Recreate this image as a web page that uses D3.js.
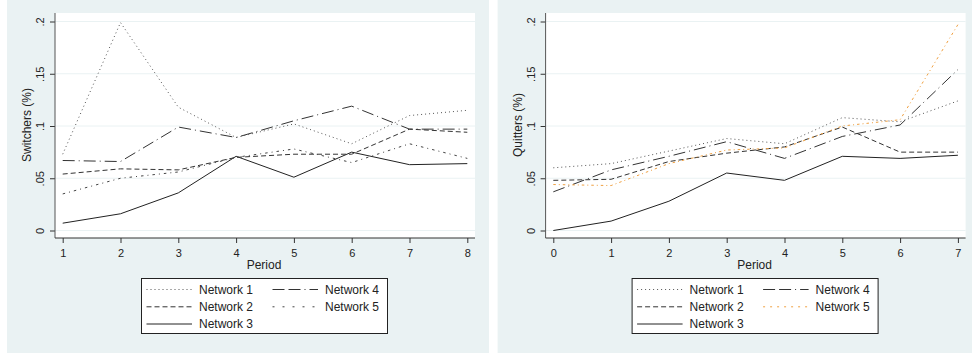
<!DOCTYPE html>
<html>
<head>
<meta charset="utf-8">
<script src="https://cdn.jsdelivr.net/npm/d3@7"></script>
<style>
    body { margin: 0; background: #ffffff; }
    svg { display: block; font-family: "Liberation Sans", Arial, sans-serif; }
</style>
</head>
<body>
<div id="chart"></div>
<script>
// Values
var switchPeriods = [1, 2, 3, 4, 5, 6, 7, 8];
var quitPeriods = [0, 1, 2, 3, 4, 5, 6, 7];
var networkNames = ["Network 1", "Network 2", "Network 3", "Network 4", "Network 5"];
var yTicks = [0, 0.05, 0.1, 0.15, 0.2];
var yTickLabels = ["0", ".05", ".1", ".15", ".2"];

var switchN1 = [0.073, 0.199, 0.118, 0.089, 0.102, 0.083, 0.110, 0.115];
var switchN2 = [0.054, 0.059, 0.058, 0.070, 0.073, 0.073, 0.097, 0.094];
var switchN3 = [0.007, 0.016, 0.036, 0.071, 0.051, 0.075, 0.063, 0.064];
var switchN4 = [0.067, 0.066, 0.099, 0.089, 0.105, 0.119, 0.097, 0.097];
var switchN5 = [0.035, 0.050, 0.056, 0.070, 0.078, 0.065, 0.083, 0.069];

var quitN1 = [0.060, 0.064, 0.076, 0.088, 0.083, 0.108, 0.104, 0.124];
var quitN2 = [0.048, 0.049, 0.066, 0.074, 0.080, 0.099, 0.075, 0.075];
var quitN3 = [0.000, 0.009, 0.028, 0.055, 0.048, 0.071, 0.069, 0.072];
var quitN4 = [0.037, 0.058, 0.071, 0.085, 0.069, 0.090, 0.101, 0.154];
var quitN5 = [0.044, 0.043, 0.064, 0.077, 0.079, 0.100, 0.106, 0.197];

class LinePanel {

    constructor(svg, offset, periods, series, title, styles) {
        this.svg = svg;
        this.offset = offset;
        this.periods = periods;
        this.series = series;
        this.title = title;
        this.styles = styles;

        // plot region inside the panel
        this.plot = { left: 55, right: 475, top: 13, bottom: 238 };
        this.x = d3.scaleLinear()
            .domain(d3.extent(periods))
            .range([62.7, 467.3]);
        this.y = d3.scaleLinear()
            .domain([0, 0.2])
            .range([230.5, 21.5]);
    }

    draw_background(g) {
        g.append("rect")
            .attr("x", 7).attr("y", 0)
            .attr("width", 482).attr("height", 353)
            .style("fill", "#eaf2f3");

        g.append("rect")
            .attr("x", this.plot.left).attr("y", this.plot.top)
            .attr("width", this.plot.right - this.plot.left)
            .attr("height", this.plot.bottom - this.plot.top)
            .style("fill", "#ffffff");

        // horizontal grid lines
        g.selectAll(".grid")
            .data(yTicks)
            .enter()
            .append("line")
            .attr("x1", this.plot.left)
            .attr("x2", this.plot.right)
            .attr("y1", d => this.y(d))
            .attr("y2", d => this.y(d))
            .style("stroke", "#eaf2f3")
            .style("stroke-width", 1);
    }

    draw_axes(g) {
        var p = this.plot;

        // y axis, labels turned like the Stata default
        var yAxis = g.append("g")
            .attr("transform", "translate(" + p.left + ",0)")
            .call(d3.axisLeft(this.y).tickValues(yTicks).tickSize(5)
                .tickFormat((d, i) => yTickLabels[i]));
        yAxis.select(".domain").remove();
        yAxis.selectAll(".tick line").style("stroke", "#333");
        yAxis.selectAll(".tick text")
            .attr("x", null).attr("dy", null)
            .attr("transform", "translate(-11,0) rotate(-90)")
            .attr("text-anchor", "middle")
            .style("font-size", "11px")
            .style("fill", "#222");
        g.append("line")
            .attr("x1", p.left).attr("x2", p.left)
            .attr("y1", p.top).attr("y2", p.bottom)
            .style("stroke", "#555");

        // x axis
        var xAxis = g.append("g")
            .attr("transform", "translate(0," + p.bottom + ")")
            .call(d3.axisBottom(this.x).tickValues(this.periods).tickSize(5)
                .tickFormat(d3.format("d")));
        xAxis.select(".domain").remove();
        xAxis.selectAll(".tick line").style("stroke", "#333");
        xAxis.selectAll(".tick text")
            .attr("y", 19).attr("dy", null)
            .style("font-size", "11px")
            .style("fill", "#222");
        g.append("line")
            .attr("x1", p.left).attr("x2", p.right)
            .attr("y1", p.bottom).attr("y2", p.bottom)
            .style("stroke", "#333");

        // axis titles
        g.append("text")
            .attr("x", 264).attr("y", 269)
            .attr("text-anchor", "middle")
            .style("font-size", "12px")
            .style("fill", "#222")
            .text("Period");

        g.append("text")
            .attr("transform", "translate(31,125) rotate(-90)")
            .attr("text-anchor", "middle")
            .style("font-size", "12px")
            .style("fill", "#222")
            .text(this.title);
    }

    draw_lines(g) {
        var line = d3.line()
            .x((d, i) => this.x(this.periods[i]))
            .y(d => this.y(d));

        // draw network 1 last so the dotted line stays visible
        var order = [2, 1, 3, 4, 0];
        order.forEach(k => {
            var s = this.styles[k];
            g.append("path")
                .datum(this.series[k])
                .attr("d", line)
                .style("fill", "none")
                .style("stroke", s.color)
                .style("stroke-width", s.width)
                .style("stroke-dasharray", s.dash);
        });
    }

    draw_legend(g) {
        g.append("rect")
            .attr("x", 141.5).attr("y", 278.5)
            .attr("width", 246).attr("height", 55)
            .style("fill", "#ffffff")
            .style("stroke", "#222")
            .style("stroke-width", 1);

        // column layout: 1,2,3 on the left, 4,5 on the right
        var slots = [[0, 0], [0, 1], [0, 2], [1, 0], [1, 1]];
        var colX = [146.5, 272.5];
        var rowY = [289.5, 306.8, 324];

        networkNames.forEach((name, k) => {
            var s = this.styles[k];
            var cx = colX[slots[k][0]];
            var cy = rowY[slots[k][1]];
            g.append("line")
                .attr("x1", cx).attr("x2", cx + 45.5)
                .attr("y1", cy).attr("y2", cy)
                .style("stroke", s.color)
                .style("stroke-width", s.width)
                .style("stroke-dasharray", s.legendDash || s.dash);
            g.append("text")
                .attr("x", cx + 52.5).attr("y", cy + 4.3)
                .style("font-size", "12px")
                .style("fill", "#222")
                .text(name);
        });
    }

    render() {
        var g = this.svg.append("g")
            .attr("transform", "translate(" + this.offset + ",0)");
        this.draw_background(g);
        this.draw_axes(g);
        this.draw_lines(g);
        this.draw_legend(g);
    }
}

var svg = d3.select("#chart")
    .append("svg")
    .attr("width", 972)
    .attr("height", 353);

var greyStyles = [
    { color: "#555", width: 1, dash: "1,3" },
    { color: "#333", width: 1, dash: "5,3" },
    { color: "#222", width: 1, dash: null },
    { color: "#333", width: 1, dash: "12,4,1,4", legendDash: "12,4,12,4,1,4" },
    { color: "#444", width: 1, dash: "2.5,4,1,4", legendDash: "2,8" }
];
var quitStyles = greyStyles.slice(0, 4).concat([
    { color: "#f0a040", width: 1, dash: "2.5,3,1,3", legendDash: "2,5" }
]);

new LinePanel(svg, 0, switchPeriods,
    [switchN1, switchN2, switchN3, switchN4, switchN5],
    "Switchers (%)", greyStyles).render();

new LinePanel(svg, 490.6, quitPeriods,
    [quitN1, quitN2, quitN3, quitN4, quitN5],
    "Quitters (%)", quitStyles).render();
</script>
</body>
</html>
